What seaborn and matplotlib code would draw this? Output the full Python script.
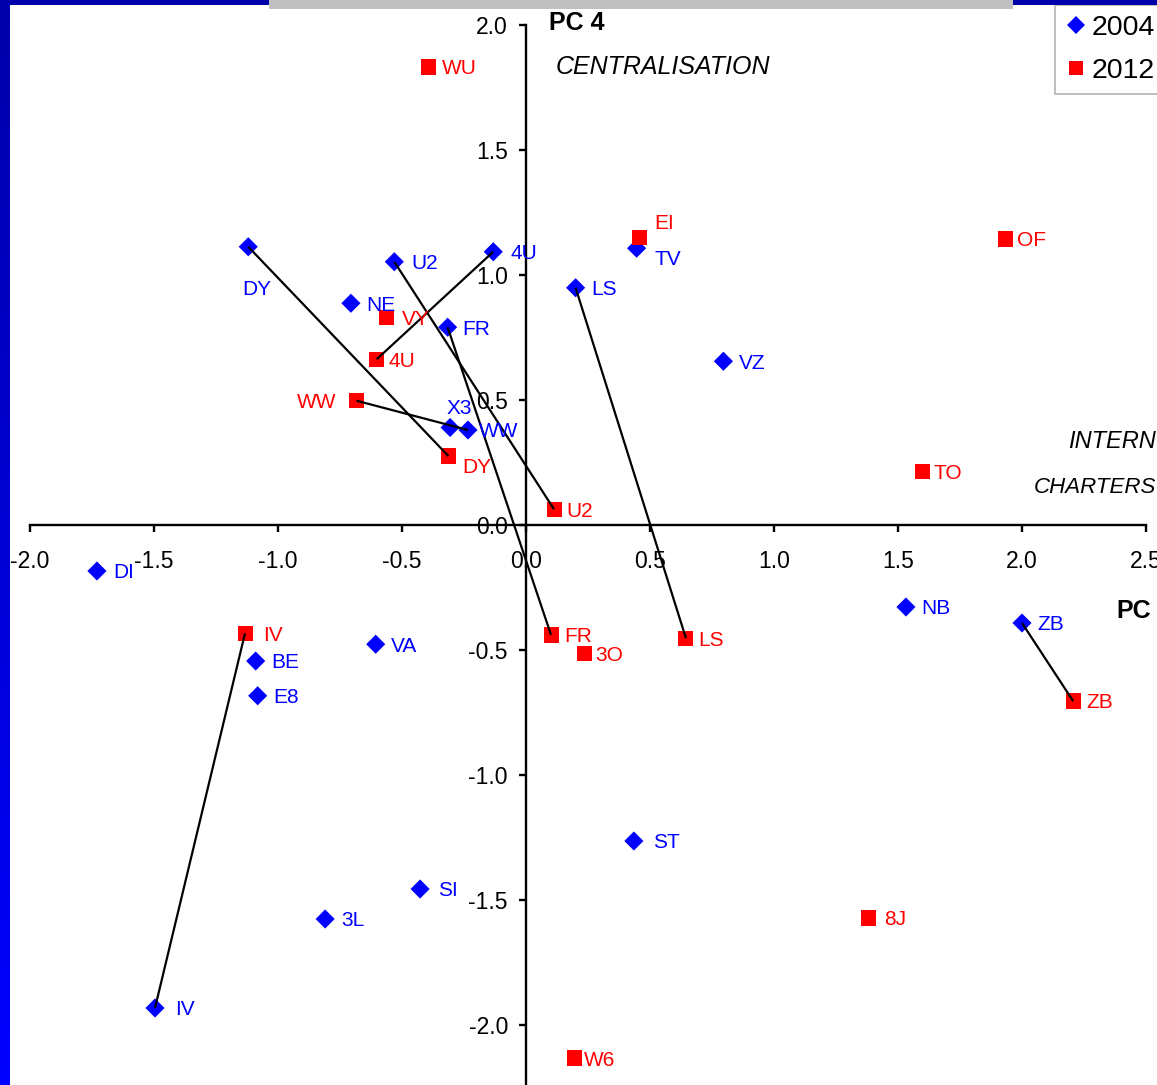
import numpy as np
import pandas as pd
import matplotlib
matplotlib.use("Agg")
import matplotlib.pyplot as plt
import seaborn as sns
from matplotlib.lines import Line2D
from matplotlib.patches import Rectangle

# ---------------- data ----------------
labels_2004 = ["DI", "IV", "BE", "E8", "VA", "3L", "SI", "ST", "NB", "ZB",
               "DY", "U2", "4U", "NE", "FR", "X3", "WW", "LS", "TV", "VZ"]
x_2004 = [-1.730, -1.496, -1.090, -1.082, -0.606, -0.810, -0.427, 0.435, 1.532, 2.000,
          -1.120, -0.531, -0.132, -0.706, -0.316, -0.306, -0.234, 0.200, 0.446, 0.796]
y_2004 = [-0.184, -1.932, -0.544, -0.683, -0.477, -1.576, -1.456, -1.264, -0.328, -0.392,
          1.113, 1.053, 1.093, 0.887, 0.791, 0.390, 0.380, 0.949, 1.107, 0.655]

labels_2012 = ["WU", "EI", "OF", "VY", "4U", "WW", "DY", "U2", "TO", "IV",
               "FR", "3O", "LS", "ZB", "8J", "W6"]
x_2012 = [-0.395, 0.457, 1.935, -0.562, -0.602, -0.683, -0.313, 0.113, 1.598, -1.133,
          0.101, 0.235, 0.645, 2.206, 1.383, 0.194]
y_2012 = [1.832, 1.151, 1.144, 0.831, 0.663, 0.497, 0.276, 0.063, 0.213, -0.433,
          -0.440, -0.513, -0.453, -0.704, -1.572, -2.132]

linked = ["DY", "U2", "4U", "FR", "WW", "LS", "ZB", "IV"]

x_ticks = [-2.0, -1.5, -1.0, -0.5, 0.0, 0.5, 1.0, 1.5, 2.0, 2.5]
y_ticks = [-2.0, -1.5, -1.0, -0.5, 0.0, 0.5, 1.0, 1.5, 2.0]
years = ["2004", "2012"]

# ---------------- layout / style ----------------
W, H = 1157, 1085
FONT = "Liberation Sans"
plt.rcParams["font.family"] = [FONT, "DejaVu Sans"]
BLUE, RED = "#0000FF", "#FF0000"
LABEL_FS = 15

# label offsets in pixels (dx right, dy up, ha)
off_2004 = {"DY": (9, -41, "center"), "X3": (9, 21, "center"), "TV": (18, -9, "left"),
            "WW": (11, 0, "left"), "U2": (17, 0, "left"), "4U": (17, 0, "left"),
            "IV": (20, 0, "left"), "ST": (19, 0, "left"), "SI": (18, 0, "left"),
            "NB": (15, 0, "left"), "ZB": (15, 0, "left"), "NE": (15, 0, "left"),
            "FR": (15, 0, "left"), "VZ": (15, 0, "left"), "VA": (15, 0, "left")}
off_2012 = {"WU": (14, 0, "left"), "EI": (15, 16, "left"), "OF": (11, 0, "left"),
            "VY": (15, 0, "left"), "4U": (12, 0, "left"), "WW": (-20, 0, "right"),
            "DY": (14, -10, "left"), "U2": (12, 0, "left"), "TO": (11, 0, "left"),
            "IV": (18, 0, "left"), "FR": (13, 0, "left"), "3O": (11, 0, "left"),
            "LS": (12, 0, "left"), "ZB": (13, 0, "left"), "8J": (15, 0, "left"),
            "W6": (10, 0, "left")}

df = pd.DataFrame({
    "x": x_2004 + x_2012,
    "y": y_2004 + y_2012,
    "label": labels_2004 + labels_2012,
    "year": [years[0]] * len(x_2004) + [years[1]] * len(x_2012),
})

fig = plt.figure(figsize=(W / 100, H / 100), dpi=100)
fig.patch.set_facecolor("white")
ax = fig.add_axes([0, 0, 1, 1])
ax.set_facecolor("white")

# data-to-pixel: x0 at px 526, 248 px/unit ; y0 at px 525, 250 px/unit
ax.set_xlim(-526 / 248, (W - 526) / 248)
ax.set_ylim((525 - H) / 250, 525 / 250)

sns.scatterplot(data=df, x="x", y="y", hue="year", style="year", size="year",
                palette={"2004": BLUE, "2012": RED},
                markers={"2004": "D", "2012": "s"},
                sizes={"2004": 95, "2012": 117},
                linewidth=0, legend=False, ax=ax, zorder=3)

# connecting lines 2004 -> 2012
for lab in linked:
    i = labels_2004.index(lab)
    j = labels_2012.index(lab)
    ax.plot([x_2004[i], x_2012[j]], [y_2004[i], y_2012[j]], color="black",
            lw=1.6, zorder=4, solid_capstyle="butt")

# point labels
for lab, xv, yv in zip(labels_2004, x_2004, y_2004):
    dx, dy, ha = off_2004.get(lab, (16, 0, "left"))
    ax.annotate(lab, (xv, yv), xytext=(dx, dy), textcoords="offset pixels",
                ha=ha, va="center_baseline", color=BLUE, fontsize=LABEL_FS, zorder=5)
for lab, xv, yv in zip(labels_2012, x_2012, y_2012):
    dx, dy, ha = off_2012.get(lab, (12, 0, "left"))
    ax.annotate(lab, (xv, yv), xytext=(dx, dy), textcoords="offset pixels",
                ha=ha, va="center_baseline", color=RED, fontsize=LABEL_FS, zorder=5)

# axes through origin
for s in ["top", "right"]:
    ax.spines[s].set_visible(False)
ax.spines["left"].set_position(("data", 0))
ax.spines["bottom"].set_position(("data", 0))
ax.spines["left"].set_bounds(-2.5, 2.0)
ax.spines["bottom"].set_bounds(-2.0, 2.5)
for s in ["left", "bottom"]:
    ax.spines[s].set_linewidth(1.7)
    ax.spines[s].set_color("black")
ax.set_xticks(x_ticks)
ax.set_yticks(y_ticks)
ax.set_xticklabels([f"{v:.1f}" for v in x_ticks])
ax.set_yticklabels([f"{v:.1f}" for v in y_ticks])
ax.tick_params(axis="x", direction="out", length=5, width=1.7, pad=13, labelsize=16.5)
ax.tick_params(axis="y", direction="out", length=5, width=1.7, pad=8, labelsize=16.5)
ax.set_xlabel("")
ax.set_ylabel("")

# axis titles / annotations (positioned in pixels)
def px(xp, yp):
    return ((xp - 526) / 248, (525 - yp) / 250)

ax.text(*px(549, 23), "PC 4", fontsize=18, fontweight="bold", ha="left", va="center")
ax.text(*px(556, 67), "CENTRALISATION", fontsize=18, fontstyle="italic", ha="left", va="center")
ax.text(*px(1068, 442), "INTERN", fontsize=17, fontstyle="italic", ha="left", va="center")
ax.text(*px(1034, 488), "CHARTERS", fontsize=16, fontstyle="italic", ha="left", va="center")
ax.text(*px(1116, 611), "PC", fontsize=18, fontweight="bold", ha="left", va="center")

# legend
handles = [Line2D([], [], marker="D", color=BLUE, ls="none", markersize=9.5, markeredgewidth=0),
           Line2D([], [], marker="s", color=RED, ls="none", markersize=10.5, markeredgewidth=0)]
leg = fig.legend(handles, years, loc="upper left", bbox_to_anchor=(1055 / W, 1 - 5 / H),
                 fontsize=20.5, frameon=True, fancybox=False, borderaxespad=0,
                 borderpad=0.36, handlelength=0.73, handletextpad=0.2, labelspacing=0.575)
leg.get_frame().set_edgecolor("#a0a0a0")
leg.get_frame().set_linewidth(1.2)

# slide decorations: top bar and left gradient stripe
fig.patches.append(Rectangle((0, 1 - 5 / H), 1, 5 / H, transform=fig.transFigure,
                             facecolor="#0000AA", edgecolor="none", zorder=10))
fig.patches.append(Rectangle((269 / W, 1 - 9 / H), (1013 - 269) / W, 9 / H,
                             transform=fig.transFigure, facecolor="#C0C0C0",
                             edgecolor="none", zorder=11))
gax = fig.add_axes([0, 0, 10 / W, 1])
grad = np.zeros((256, 1, 3))
grad[:, 0, 2] = np.linspace(0xAA, 0xFF, 256) / 255.0
gax.imshow(grad, aspect="auto", interpolation="bilinear")
gax.set_axis_off()

fig.savefig("out.png", dpi=100)
